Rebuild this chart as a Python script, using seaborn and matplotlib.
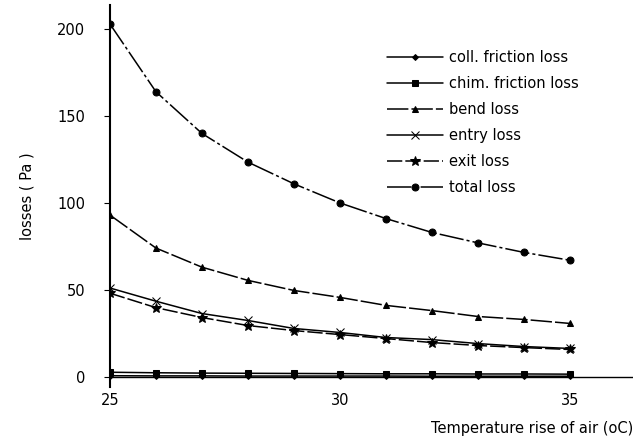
import matplotlib
matplotlib.use("Agg")
import matplotlib.pyplot as plt
import seaborn as sns
import pandas as pd

# valeurs
temperature = [25, 26, 27, 28, 29, 30, 31, 32, 33, 34, 35]
coll_friction = [0.5, 0.4, 0.4, 0.3, 0.3, 0.3, 0.3, 0.2, 0.2, 0.2, 0.2]
chim_friction = [2.5, 2.2, 2.0, 1.9, 1.8, 1.7, 1.6, 1.6, 1.5, 1.5, 1.4]
bend_loss = [93, 74, 63, 55.4, 49.6, 45.6, 41, 38, 34.6, 32.9, 30.6]
entry_loss = [51, 43.4, 36.3, 32.3, 27.7, 25.4, 22.5, 21.3, 19, 17.3, 16.2]
exit_loss = [48, 39.7, 34, 29.4, 26.5, 24.2, 21.9, 19.6, 17.9, 16.7, 15.6]
total_loss = [203, 164, 140, 123.5, 111, 100, 91, 83, 77, 71.5, 67]

series = {
    "coll. friction loss": coll_friction,
    "chim. friction loss": chim_friction,
    "bend loss": bend_loss,
    "entry loss": entry_loss,
    "exit loss": exit_loss,
    "total loss": total_loss,
}

styles = {
    "coll. friction loss": dict(marker="D", markersize=3, linestyle="-"),
    "chim. friction loss": dict(marker="s", markersize=5, linestyle="-"),
    "bend loss": dict(marker="^", markersize=5, linestyle=(0, (14, 2))),
    "entry loss": dict(marker="x", markersize=6, linestyle="-"),
    "exit loss": dict(marker="*", markersize=7, linestyle=(0, (10, 2))),
    "total loss": dict(marker="o", markersize=5, linestyle=(0, (16, 2, 2, 2))),
}

df = pd.DataFrame(series)
df["temperature"] = temperature

sns.set_style("white")
plt.rcParams["font.family"] = ["DejaVu Sans"]
plt.rcParams["text.color"] = "black"
plt.rcParams["axes.labelcolor"] = "black"
plt.rcParams["xtick.color"] = "black"
plt.rcParams["ytick.color"] = "black"

fig = plt.figure(figsize=(6.33, 4.43), dpi=100)
ax = fig.add_axes([110 / 633, 56 / 443, 523 / 633, 382 / 443])

for name in series:
    sns.lineplot(data=df, x="temperature", y=name, ax=ax, color="black",
                 linewidth=1.1, label=name, markeredgecolor="black",
                 **styles[name])

ax.set_xlim(25, 36.37)
ax.set_ylim(-6, 214)
ax.set_xticks([25, 30, 35])
ax.set_yticks([0, 50, 100, 150, 200])
ax.spines["top"].set_visible(False)
ax.spines["right"].set_visible(False)
ax.spines["bottom"].set_position(("data", 0))
ax.spines["left"].set_linewidth(1.5)
ax.spines["bottom"].set_linewidth(1.0)
for s in ("left", "bottom"):
    ax.spines[s].set_color("black")
ax.tick_params(axis="y", direction="out", length=4, width=0.8, pad=14,
               labelsize=10.5, left=True)
ax.tick_params(axis="x", direction="out", length=0, pad=12, labelsize=10.5,
               bottom=True)

ax.set_ylabel("losses ( Pa )", fontsize=10.5, labelpad=16)
ax.set_xlabel("Temperature rise of air (oC)", fontsize=10.5, loc="right",
              labelpad=9)

ax.legend(loc="upper left", bbox_to_anchor=(270 / 523, 1 - 38 / 382),
          frameon=False, fontsize=10.5, handlelength=3.8, labelspacing=0.75,
          borderpad=0, handletextpad=0.4)

plt.savefig("out.png", dpi=100)
plt.close()
